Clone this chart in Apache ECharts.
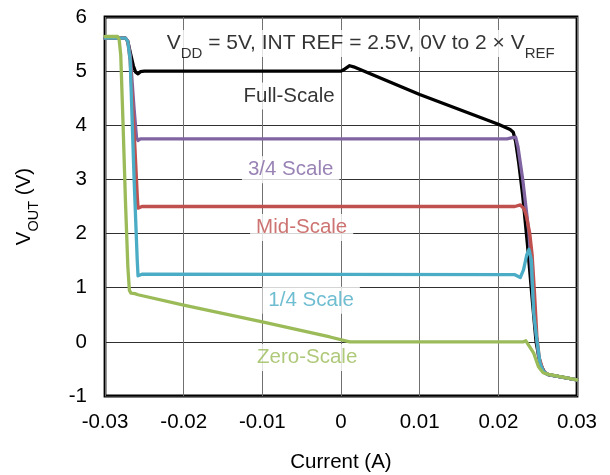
<!DOCTYPE html>
<html>
<head>
<meta charset="utf-8">
<script src="https://cdn.jsdelivr.net/npm/echarts@6/dist/echarts.min.js"></script>
<style>
  html, body { margin: 0; padding: 0; background: #fff; }
  #chart { width: 610px; height: 475px; }
</style>
</head>
<body>
<div id="chart"></div>
<script>
// Output voltage vs. load current for each DAC code, [current (A), VOUT (V)]
const fullScale = [
  [-0.03, 5.61], [-0.0274, 5.61], [-0.0271, 5.55], [-0.0268, 5.35], [-0.0264, 5.1],
  [-0.0261, 4.98], [-0.0258, 4.95], [-0.0255, 4.99], [-0.025, 5.0], [0.0, 5.0],
  [0.0005, 5.04], [0.0011, 5.1], [0.0016, 5.08], [0.01, 4.57], [0.02, 4.02],
  [0.0215, 3.92], [0.0219, 3.87], [0.0222, 3.7], [0.0226, 3.3], [0.0231, 2.7],
  [0.0237, 1.8], [0.0243, 0.8], [0.0248, 0.0], [0.0253, -0.4], [0.0259, -0.57],
  [0.0265, -0.61], [0.03, -0.7]
];
const threeQuarterScale = [
  [-0.03, 5.61], [-0.0274, 5.61], [-0.0271, 5.55], [-0.0268, 5.3], [-0.0263, 4.3],
  [-0.026, 3.78], [-0.0258, 3.72], [-0.0255, 3.75], [0.0211, 3.75], [0.0218, 3.77],
  [0.0222, 3.78], [0.0225, 3.6], [0.0228, 3.3], [0.0231, 3.0], [0.0235, 2.5],
  [0.0239, 2.0], [0.0243, 1.1], [0.0247, 0.3], [0.0251, -0.25], [0.0256, -0.52],
  [0.0262, -0.6], [0.03, -0.7]
];
const midScale = [
  [-0.03, 5.61], [-0.0274, 5.61], [-0.0271, 5.55], [-0.0268, 5.2], [-0.0262, 3.6],
  [-0.0259, 2.7], [-0.0258, 2.47], [-0.0256, 2.48], [-0.0253, 2.5], [0.0221, 2.5],
  [0.0228, 2.53], [0.0233, 2.45], [0.0236, 2.3], [0.024, 2.0], [0.0243, 1.6],
  [0.0246, 0.9], [0.0249, 0.1], [0.0252, -0.3], [0.0257, -0.53], [0.0262, -0.6],
  [0.03, -0.7]
];
const quarterScale = [
  [-0.03, 5.61], [-0.0274, 5.61], [-0.0271, 5.55], [-0.0268, 5.2], [-0.0263, 3.0],
  [-0.0259, 1.5], [-0.0258, 1.22], [-0.0256, 1.21], [-0.0253, 1.25], [0.0221, 1.24],
  [0.0228, 1.19], [0.0232, 1.33], [0.0236, 1.6], [0.0239, 1.71], [0.0242, 1.51],
  [0.0245, 0.53], [0.0249, 0.03], [0.0253, -0.39], [0.0257, -0.54], [0.0262, -0.6],
  [0.03, -0.7]
];
const zeroScale = [
  [-0.03, 5.64], [-0.0284, 5.64], [-0.0282, 5.58], [-0.028, 5.3], [-0.0277, 4.0],
  [-0.0274, 2.6], [-0.0271, 1.4], [-0.0269, 0.95], [-0.0267, 0.9], [-0.0262, 0.89],
  [-0.0258, 0.87], [-0.02, 0.68], [-0.01, 0.37], [-0.0014, 0.09], [0.0011, 0.0],
  [0.0232, 0.0], [0.0235, 0.02], [0.0245, -0.21], [0.0251, -0.46], [0.0257, -0.57],
  [0.0264, -0.6], [0.03, -0.7]
];

// Series names, colours and where their captions sit (data coordinates)
const seriesNames = ['Full-Scale', '3/4 Scale', 'Mid-Scale', '1/4 Scale', 'Zero-Scale'];
const seriesColors = ['#000000', '#8064A2', '#C0504D', '#4BACC6', '#9BBB59'];
const captionAnchors = [[-0.0066, 4.54], [-0.0064, 3.18], [-0.005, 2.11], [-0.0038, 0.77], [-0.0043, -0.29]];

// Condition banner
const bannerAnchor = [0.0025, 5.51];
const bannerText = '{m|V}{s|DD}{m| = 5V, INT REF = 2.5V, 0V to 2 × V}{s|REF}';

// Axis ranges and titles
const xRange = [-0.03, 0.03, 0.01];
const yRange = [-1, 6, 1];
const xTitle = 'Current (A)';
const yTitle = '{m|V}{s|OUT}{m| (V)}';

const FONT = '"Liberation Sans", Arial, sans-serif';
const curves = [fullScale, threeQuarterScale, midScale, quarterScale, zeroScale];

const chart = echarts.init(document.getElementById('chart'), null, { renderer: 'canvas' });

const lineSeries = curves.map((d, i) => ({
  name: seriesNames[i],
  type: 'line',
  data: d,
  showSymbol: false,
  symbol: 'none',
  lineStyle: { color: seriesColors[i], width: 3.3, join: 'round', cap: 'round' },
  z: 3 + i,
  silent: true
}));

const captionData = seriesNames.map((n, i) => ({
  value: captionAnchors[i],
  label: {
    show: true,
    position: 'inside',
    formatter: n,
    color: seriesColors[i],
    fontSize: 20.5,
    fontFamily: FONT,
    backgroundColor: '#fff',
    padding: [3, 6]
  }
}));
captionData.push({
  value: bannerAnchor,
  label: {
    show: true,
    position: 'inside',
    formatter: bannerText,
    backgroundColor: '#fff',
    padding: [3, 4],
    rich: {
      m: { fontSize: 21, lineHeight: 21, verticalAlign: 'top', color: '#000', fontFamily: FONT },
      s: { fontSize: 15, lineHeight: 15, padding: [13, 0, 0, 0], verticalAlign: 'top', color: '#000', fontFamily: FONT }
    }
  }
});

const option = {
  animation: false,
  backgroundColor: '#fff',
  grid: {
    left: 105, right: 33, top: 17, bottom: 79,
    outerBoundsMode: 'none',
    containLabel: false,
    show: true, borderColor: '#000', borderWidth: 2.8, backgroundColor: 'transparent'
  },
  xAxis: {
    type: 'value',
    min: xRange[0], max: xRange[1], interval: xRange[2],
    name: xTitle,
    nameLocation: 'middle',
    nameGap: 56,
    nameTextStyle: { fontSize: 20.5, color: '#000', fontFamily: FONT },
    axisLine: { show: false },
    axisTick: { show: false },
    axisLabel: {
      fontSize: 20.5, color: '#000', fontFamily: FONT, margin: 16,
      formatter: v => String(Number(v.toFixed(2)))
    },
    splitLine: { show: true, lineStyle: { color: '#707070', width: 1 } }
  },
  yAxis: {
    type: 'value',
    min: yRange[0], max: yRange[1], interval: yRange[2],
    name: yTitle,
    nameLocation: 'middle',
    nameGap: 70,
    nameRotate: 90,
    nameTextStyle: {
      rich: {
        m: { fontSize: 20.5, lineHeight: 21, verticalAlign: 'top', color: '#000', fontFamily: FONT },
        s: { fontSize: 14.5, lineHeight: 14, padding: [12, 0, 0, 0], verticalAlign: 'top', color: '#000', fontFamily: FONT }
      }
    },
    axisLine: { show: false },
    axisTick: { show: false },
    axisLabel: { fontSize: 20.5, color: '#000', fontFamily: FONT, margin: 18 },
    splitLine: { show: true, lineStyle: { color: '#303030', width: 1 } }
  },
  series: lineSeries.concat([{
    type: 'scatter',
    data: captionData,
    symbolSize: 0,
    silent: true,
    z: 2
  }])
};

chart.setOption(option);
</script>
</body>
</html>
